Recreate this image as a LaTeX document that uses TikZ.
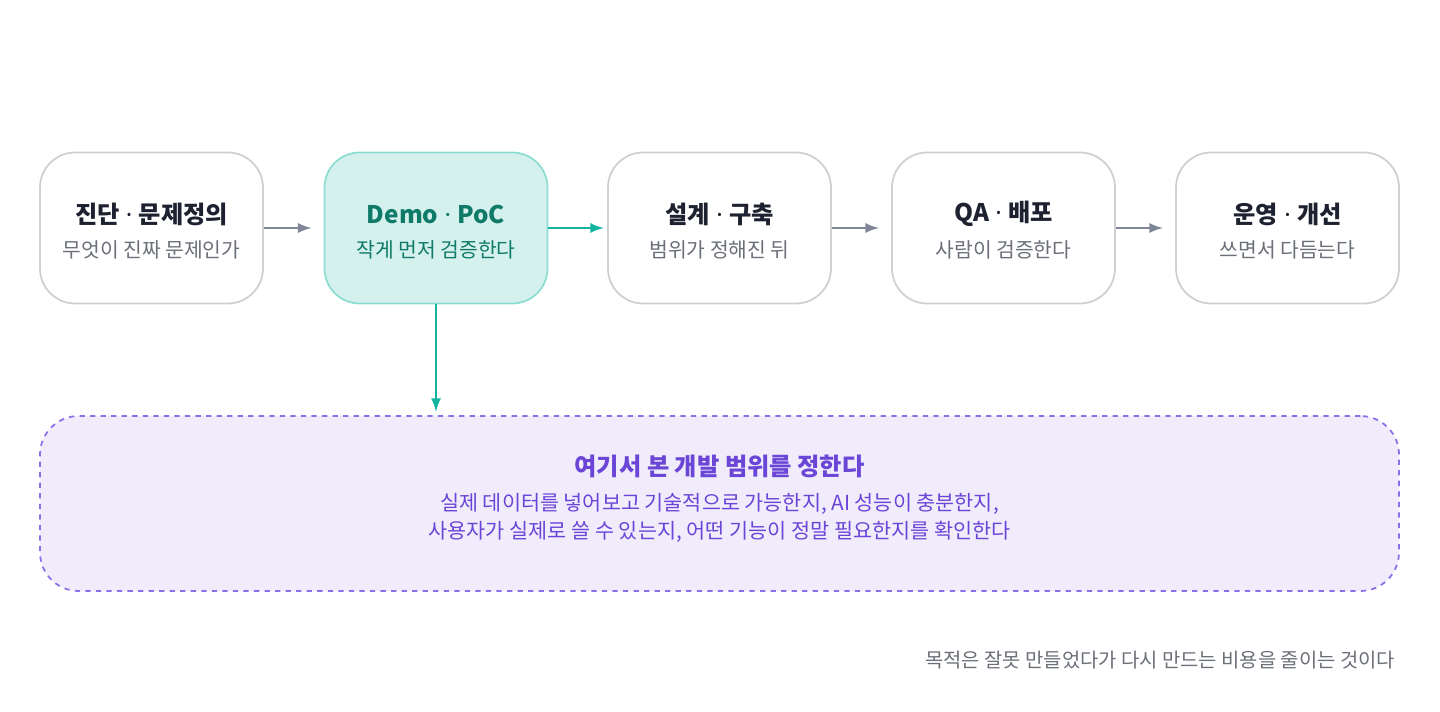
\documentclass[tikz,border=0pt]{standalone}
\usepackage{fontspec}
\setmainfont{Noto Sans CJK KR}
\newfontfamily\latinfont{Noto Sans}
\newcommand{\middot}{{\latinfont\ ·\ }}
\usetikzlibrary{positioning}
\definecolor{edgegray}{HTML}{D0D0D0}
\definecolor{arrowgray}{HTML}{7F8797}
\definecolor{pocfill}{HTML}{D5F1EE}
\definecolor{pocline}{HTML}{8EDDD3}
\definecolor{poctext}{HTML}{0F7A68}
\definecolor{tealarrow}{HTML}{12B3A1}
\definecolor{scopefill}{HTML}{F0ECFC}
\definecolor{scopeline}{HTML}{8B6FE8}
\definecolor{scopetext}{HTML}{6A45D6}
\definecolor{darktext}{HTML}{1E2230}
\definecolor{subtext}{HTML}{6B6F78}

\begin{document}
\begin{tikzpicture}
        [ x = .02cm, y = -.02cm
        , stage/.style =
          { draw=edgegray, line width=1pt, fill=white, rounded corners=20pt
          , minimum width=223*.02cm, minimum height=151*.02cm, inner sep=0pt }
        , poc/.style =
          { stage, draw=pocline, fill=pocfill }
        , title/.style =
          { font=\bfseries\fontsize{13.8}{16}\selectfont, text=darktext }
        , sub/.style =
          { font=\fontsize{11.6}{13}\selectfont, text=subtext }
        , flow/.style =
          { -latex, line width=1.6pt, arrowgray, shorten >=7pt, shorten <=0pt }
        , tealflow/.style =
          { flow, tealarrow, shorten >=2pt }
        ]
        \useasboundingbox (0,0) rectangle (1440,712);

        % stages
        \node [stage] (diag) at (151.5,228) {};
        \node [poc] (demo) at (436,228) {};
        \node [stage] (build) at (719.5,228) {};
        \node [stage] (qa) at (1003.5,228) {};
        \node [stage] (ops) at (1287.5,228) {};

        \node [title] at (151.5,214) {진단\middot 문제정의};
        \node [sub] at (151.5,250) {무엇이 진짜 문제인가};
        \node [title,text=poctext] at (436,214) {Demo\middot PoC};
        \node [sub,text=poctext] at (436,250) {작게 먼저 검증한다};
        \node [title] at (719.5,214) {설계\middot 구축};
        \node [sub] at (719.5,250) {범위가 정해진 뒤};
        \node [title] at (1003.5,214) {QA\middot 배포};
        \node [sub] at (1003.5,250) {사람이 검증한다};
        \node [title] at (1287.5,214) {운영\middot 개선};
        \node [sub] at (1287.5,250) {쓰면서 다듬는다};

        % scope box
        \node [draw=scopeline, dashed, line width=1pt, fill=scopefill, rounded corners=22pt
              , minimum width=1359*.02cm, minimum height=175*.02cm] (scope) at (719.5,503.5) {};
        \node [font=\bfseries\fontsize{13.8}{16}\selectfont, text=scopetext] at (719.5,466) {여기서 본 개발 범위를 정한다};
        \node [font=\fontsize{11.8}{13}\selectfont, text=scopetext, align=center] at (719.5,518)
              {실제 데이터를 넣어보고 기술적으로 가능한지, AI 성능이 충분한지,\\[3pt]
               사용자가 실제로 쓸 수 있는지, 어떤 기능이 정말 필요한지를 확인한다};

        \node [font=\fontsize{11.3}{13}\selectfont, text=subtext, anchor=east] (note) at (1401,660)
              {목적은 잘못 만들었다가 다시 만드는 비용을 줄이는 것이다};

        \draw [flow] (diag) -- (demo);
        \draw [tealflow] (demo) -- (build);
        \draw [flow] (build) -- (qa);
        \draw [flow] (qa) -- (ops);
        \draw [tealflow] (demo) -- (scope.north -| demo);
\end{tikzpicture}
\end{document}
